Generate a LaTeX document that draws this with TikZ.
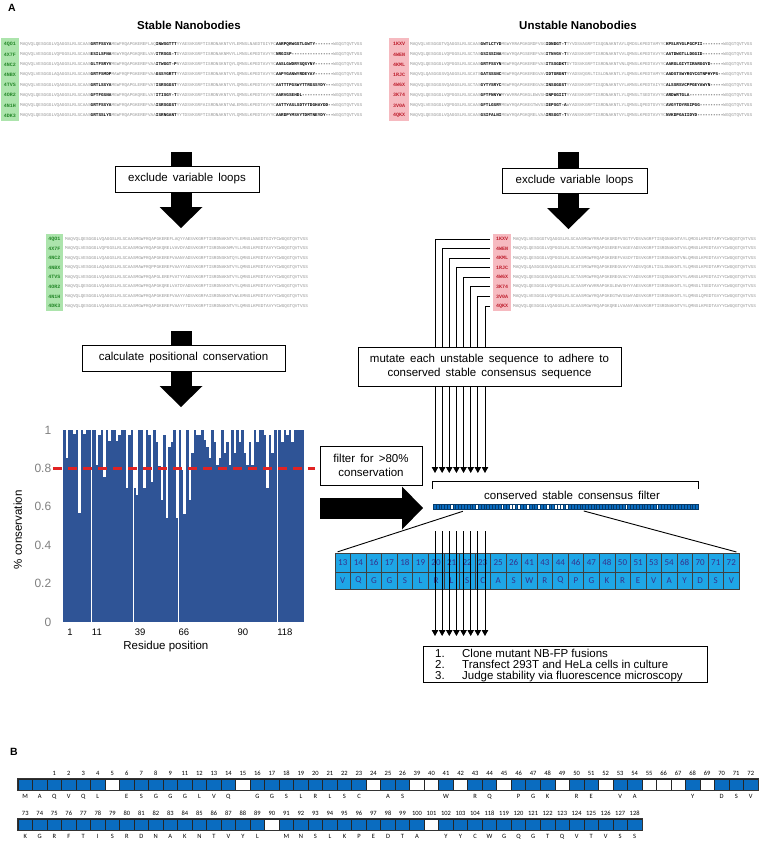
\documentclass[tikz,border=0pt]{standalone}
\usepackage{fontspec}
\setmainfont{Liberation Sans}
\setmonofont{Liberation Mono}
\newfontfamily\widefont{Liberation Sans}[WordSpace=1.6]
\newfontfamily\calfont{Carlito}
\usepackage{xcolor}
\usetikzlibrary{arrows.meta,calc,positioning}

\definecolor{stabgreen}{RGB}{35,135,40}
\definecolor{stabbg}{RGB}{172,228,172}
\definecolor{unstred}{RGB}{190,30,45}
\definecolor{unstbg}{RGB}{246,186,192}
\definecolor{seqgray}{RGB}{150,150,150}
\definecolor{chartblue}{RGB}{47,84,150}
\definecolor{kept}{RGB}{10,108,192}
\definecolor{drop}{RGB}{255,255,255}
\definecolor{tabcyan}{RGB}{30,166,230}
\definecolor{tabtext}{RGB}{55,50,140}
\definecolor{cutred}{RGB}{225,35,35}

% fr1/cdr1/fr2/cdr2/fr3/cdr3/fr4
\newcommand{\rawseq}[7]{#1{\color{black}\bfseries #2}#3{\color{black}\bfseries #4}#5{\color{black}\bfseries #6}#7}
\newcommand{\stepno}[1]{\makebox[27pt][l]{#1}}

\def\stabrows{4QO1/MAQVQLQESGGGLVQAGGSLRLSCAAS/GRTFSSYA/MGWFRQAPGKEREFLAQ/INWSGTTT/YYAESVKGRFTISRDNAKNTVYLEMNSLNAEDTGIYFC/AARPQRWGSTLGWTY-------/WGQGTQVTVSS,
4X7F/MAQVQLVESGGGLVQPGGSLRLSCAAS/ESILSFNA/MGWYRQAPGKQRELVAV/ITRSGS-T/DYADSVKGRFTISRDNAKNMVYLLMNSLKPEDTAVYYC/NRGISP----------------/WGQGTQVTVSS,
4NC2/MAQVQLVESGGGLVQAGGSLRLSCAAS/GLTFSRYV/MGWFRQAPGKEREFVAA/ITWGGT-P/NYADSVKGRFTISRDNSKNTQYLQMNSLKPEDTAVYYC/AASLGWDRYSQSYNY-------/WGQGTQVTVSS,
4NBX/MAQVQLVESGGGLAQAGGSLRLSCAAS/GRTFSMDP/MAWFRQPPGKEREFVAA/GSSYGRTT/YYADSVKGRFTISRDNAKNTVYLQMNSLKPEDTAVYYC/AAPYGANWYRDEYAY-------/WGQGTQVTVSS,
4TVS/MAQVQLVESGGGLVQAGGSLRLSCAAS/GRTLSSYA/MGWFRQAPGLEREFVAT/ISRSGGST/YYADSVKGRFTISRDNAKNTVYLQMNSLKPEDTAVYYC/AATTTPGSWYTTRGSSYDY---/WGQGTQVTVSS,
4OR2/MAQVQLQESGGGLVQAGGSLRLSCAAS/GFTFGSNA/MGWFRQAPGKQRELVAT/ITISGY-T/DYADSVKGRFTISRDNVKNTVYLQMNSLKPEDTAVYYC/AARVGSEHDL------------/WGQGTQVTVSS,
4N1H/MAQVQLQESGGGLVQAGGSLRLSCAAS/GRTFSSYA/MGWFRQAPGKEREFVAA/ISRSGGST/YYADSVKGRFAISRDNAKNTVWLEMNSLKPEDTAVYYC/AATTYASLSDTYTDGHAYDD--/WGQGTQVTVSS,
4DK3/MAQVQLQESGGGLVQAGGSLRLSCAAS/GRTSSLYS/MGWFRQAPGKEREFVAA/ISRNGANT/YYTDSVKGRFTISRDNAKNTVYLQMNSLKPEDTAVYYC/AARDPYMSVYTDMTNEYDY---/WGQGTQVTVSS}

\def\unstrows{1KXV/MAQVQLVESGGGTVQAGGSLRLSCAAS/GWTLCTYD/MGWYRRAPGKGRDFVSG/IDNDGT-T/TYVDSVAGRFTISQGNAKNTAYLQMDSLKPEDTAMYYC/KPSLRYGLPGCPII--------/WGQGTQVTVSS,
4WEN/MAQVQLQESGGGLVQPGGSLRLSCTAS/GSISSINA/MGWYRQAPGSEREFVAG/ITNVGV-T/EYADSVKGRFTISRDNAKNTVVLQMNSLKPEDTAVYYC/AATDWGTLLDGGID--------/WGQGTQVTVSS,
4KML/MAQVQLQESGGGLVQPGGSLRLSCAAS/GRTFSSYN/MGWFRQAPGKEREFVAS/ITSSGDKT/DYTDSVKGRFTISRDNAKNTVNLQMNSLKPEDTAVYYC/AARGLGIYTIRARGGYD-----/WGQGTQVTVSS,
1RJC/MAQVQLQASGGGSVQAGGSLRLSCATS/GATSSSNC/MGWFRQAPGKEREGVAV/IDTGRGNT/YYADSVQGRLTISLDNAKNTLYLQMNSLKPEDTAMYYC/AADSTSWYRGYCGTNPHYPS--/WGQGTQVTVSS,
4W6X/MAQVQLQESGGGSVQAGGSLRLSCTAS/GYTYSRYC/MGWFRQAPGKEREGVAC/INSGGGST/YYADSVKGRFTISQDNAKNTVYLAMNSLKPEDTAIYYC/ALSSRSVCPPGEYAWYN-----/WGQGTQVTVSS,
3K74/MAQVQLQESGGGLVQPGGSLRLSCAAS/GFTFNNYW/MYWVRRAPGKGLEWVSH/INPGGIIT/YYAESVKGRFTISRDNAKNTLYLQMNSLTSEDTAVYYC/ARDWRTGLA-------------/WGQGTQVTVSS,
3V0A/MAQVQLVESGGGLVQPGGSLRLSCAAS/GFTLGSRY/MGWYRQAPGKEGTWVSS/IEPSGT-A/WYADSVKGRFTISRDNAKNTLYLQMNSLQPEDTGVYYC/AVGYTDYRSIPGG---------/WGQGTQVTVSS,
4QKX/MAQVQLQESGGGLVQAGGSLRLSCAAS/GSIFALNI/MGWYRQAPGKQRELVAA/IRSGGT-T/NYANSVKGRFTISRDNAKNTVYLQMNSLKPEDTAVYYC/NVKDPGAIIDYD----------/WGQGTQVTVSS}

% position/residue/colour
\def\rowA{/M/kept,/A/kept,1/Q/kept,2/V/kept,3/Q/kept,4/L/kept,5//drop,6/E/kept,7/S/kept,8/G/kept,9/G/kept,11/G/kept,12/L/kept,13/V/kept,14/Q/kept,15//drop,16/G/kept,17/G/kept,18/S/kept,19/L/kept,20/R/kept,21/L/kept,22/S/kept,23/C/kept,24//drop,25/A/kept,26/S/kept,39//drop,40//drop,41/W/kept,42//drop,43/R/kept,44/Q/kept,45//drop,46/P/kept,47/G/kept,48/K/kept,49//drop,50/R/kept,51/E/kept,52//drop,53/V/kept,54/A/kept,55//drop,66//drop,67//drop,68/Y/kept,69//drop,70/D/kept,71/S/kept,72/V/kept}
\def\rowB{73/K/kept,74/G/kept,75/R/kept,76/F/kept,77/T/kept,78/I/kept,79/S/kept,80/R/kept,81/D/kept,82/N/kept,83/A/kept,84/K/kept,85/N/kept,86/T/kept,87/V/kept,88/Y/kept,89/L/kept,90//drop,91/M/kept,92/N/kept,93/S/kept,94/L/kept,95/K/kept,96/P/kept,97/E/kept,98/D/kept,99/T/kept,100/A/kept,101//drop,102/Y/kept,103/Y/kept,104/C/kept,118/W/kept,119/G/kept,120/Q/kept,121/G/kept,122/T/kept,123/Q/kept,124/V/kept,125/T/kept,126/V/kept,127/S/kept,128/S/kept}
\def\tabdata{13/V,14/Q,16/G,17/G,18/S,19/L,20/R,21/L,22/S,23/C,25/A,26/S,41/W,43/R,44/Q,46/P,47/G,48/K,50/R,51/E,53/V,54/A,68/Y,70/D,71/S,72/V}

\begin{document}
\begin{tikzpicture}[x=1pt,y=-1pt,
  panlab/.style={inner sep=0pt,font=\bfseries\fontsize{10.5}{12}\selectfont},
  title/.style={inner sep=0pt,font=\bfseries\fontsize{11.5}{13}\selectfont},
  stepbox/.style={draw,fill=white,line width=0.9pt,inner sep=0pt,align=center,font=\widefont\fontsize{11.5}{13.5}\selectfont},
  bigarrow/.style={line width=21pt,-{Triangle[length=21pt,width=43pt,line width=0pt]}},
  mutarrow/.style={line width=0.8pt,-{Triangle[length=6pt,width=6.5pt]}},
  seqtxt/.style={inner sep=0pt,anchor=west,text=seqgray,font=\ttfamily\fontsize{4.35}{4.35}\selectfont},
  seqlab/.style={inner sep=0pt,font=\ttfamily\bfseries\fontsize{5}{5}\selectfont},
  fcell/.style={minimum width=2.82pt,minimum height=5pt,inner sep=0pt,draw=kept!55!black,line width=0.25pt},
  tcell/.style={minimum width=15.54pt,inner sep=0pt,fill=tabcyan,draw=black!75,line width=0.5pt,text=tabtext,font=\calfont\fontsize{9}{9}\selectfont},
  bcell/.style={minimum width=14.51pt,minimum height=11pt,inner sep=0pt,draw=black!85,line width=0.7pt},
  btxt/.style={inner sep=0pt,font=\calfont\fontsize{6.5}{6.5}\selectfont},
  ytick/.style={anchor=east,inner sep=0pt,text=black!50,font=\fontsize{12}{12}\selectfont},
  xtick/.style={inner sep=0pt,font=\fontsize{9.5}{10}\selectfont},
  axlab/.style={inner sep=0pt,font=\fontsize{11.5}{12}\selectfont}]
\fill[white] (0,0) rectangle (762,844);
\useasboundingbox (0,0) rectangle (762,844);

\node[panlab] (labA) at (12,8) {A};
\node[title] (stabT) at (189,25) {Stable Nanobodies};
\node[title] (unstT) at (578,25) {Unstable Nanobodies};

% sequence blocks
\fill[stabbg] (1,38) rectangle (19,121);
\fill[unstbg] (389,38) rectangle (409,121);
\fill[stabbg] (46,234) rectangle (63,311);
\fill[unstbg] (493,234) rectangle (511,311);
\foreach \lab/\sA/\sB/\sC/\sD/\sE/\sF/\sG [count=\i from 0] in \stabrows {
  \node[seqlab,text=stabgreen] (sr\i) at (10,44.3+10.2*\i) {\lab};
  \node[seqtxt] (srs\i) at (20,44.3+10.2*\i) {\rawseq{\sA}{\sB}{\sC}{\sD}{\sE}{\sF}{\sG}};
  \node[seqlab,text=stabgreen] (sa\i) at (54.5,239+9.57*\i) {\lab};
  \node[seqtxt] (sas\i) at (65,239+9.57*\i) {\sA\sC\sE\sG};
}
\foreach \lab/\sA/\sB/\sC/\sD/\sE/\sF/\sG [count=\i from 0] in \unstrows {
  \node[seqlab,text=unstred] (ur\i) at (399,44.3+10.2*\i) {\lab};
  \node[seqtxt] (urs\i) at (410,44.3+10.2*\i) {\rawseq{\sA}{\sB}{\sC}{\sD}{\sE}{\sF}{\sG}};
  \node[seqlab,text=unstred] (ua\i) at (502,239+9.57*\i) {\lab};
  \node[seqtxt] (uas\i) at (513,239+9.57*\i) {\sA\sC\sE\sG};
}

% block arrows
\coordinate (exLs) at (181,152);   \coordinate (exLe) at (181,228);
\coordinate (exRs) at (568.5,152); \coordinate (exRe) at (568.5,229);
\coordinate (caLs) at (181,331);   \coordinate (caLe) at (181,407);
\coordinate (fiLs) at (320,508);   \coordinate (fiLe) at (423,508);
\draw[bigarrow] (exLs) -- (exLe);
\draw[bigarrow] (exRs) -- (exRe);
\draw[bigarrow] (caLs) -- (caLe);
\draw[bigarrow] (fiLs) -- (fiLe);
\node[stepbox,minimum width=144pt,minimum height=26pt] (exclL) at (187,179) {exclude variable loops};
\node[stepbox,minimum width=145pt,minimum height=25pt] (exclR) at (574.5,180.5) {exclude variable loops};
\node[stepbox,minimum width=203pt,minimum height=26pt] (calcB) at (183.5,358) {calculate positional conservation};

% unstable sequences to the filter
\foreach \i in {0,...,7} {
  \coordinate (mt\i) at (435+7.14*\i,473);
  \draw[mutarrow,shorten <=6pt] (ua\i.west) -| (mt\i);
}
\node[stepbox,minimum width=263pt,minimum height=39pt] (mutB) at (489.5,366.5) {mutate each unstable sequence to adhere to\\conserved stable consensus sequence};
\node[stepbox,minimum width=102pt,minimum height=39pt] (filtB) at (371,465.5) {filter for >80\%\\conservation};

% conservation chart
\begin{scope}[shift={(63,622)},x=2.51pt,y=192pt]
  \fill[chartblue] (0,0) rectangle (96,1);
  \foreach \b/\v in {1/.852,4/.979,6/.569,8/.979,13/.817,14/.974,16/.757,18/.944,21/.944,22/.974,25/.696,26/.974,28/.696,29/.66,32/.70,34/.974,35/.73,37/.94,38/.81,39/.635,40/.974,41/.54,42/.91,43/.94,45/.54,47/.79,48/.565,50/.635,51/.878,53/.974,54/.974,56/.948,57/.913,58/.852,60/.94,61/.817,62/.852,64/.878,65/.94,66/.817,68/.878,70/.94,72/.878,73/.817,74/.94,75/.817,77/.94,80/.974,81/.696,82/.974,83/.878,87/.94,89/.974,91/.94}
    \fill[white] (\b,\v) rectangle (\b+1,1.01);
  \foreach \g in {11.4,28,46.1,85.4}
    \fill[white] (\g-0.3,-0.005) rectangle (\g+0.3,1.01);
  \draw[cutred,line width=2.5pt,dash pattern=on 9pt off 6pt] (-4,0.8) -- (100.4,0.8);
  \foreach \v in {0,0.2,0.4,0.6,0.8,1}
    \node[ytick] (yt\v) at (-4.6,\v) {\v};
  \foreach \p/\t in {2.8/1,13.5/11,30.7/39,48.2/66,71.7/90,88.4/118}
    \node[xtick] (xt\t) at (\p,-0.055) {\t};
  \node[axlab] (xlab) at (41,-0.13) {Residue position};
  \node[axlab,rotate=90] (ylab) at (-18,0.48) {\% conservation};
\end{scope}

% consensus filter bar
\foreach \n/\l/\c [count=\k from 0] in \rowA
  \node[fcell,fill=\c] (f\k) at (434.41+2.82*\k,506.5) {};
\foreach \n/\l/\c [count=\k from 51] in \rowB
  \node[fcell,fill=\c] (f\k) at (434.41+2.82*\k,506.5) {};
\draw[line width=0.9pt] ([yshift=15pt]f0.north west) -- ([yshift=22pt]f0.north west) -| ([yshift=15pt]f93.north east);
\node[font=\widefont\fontsize{11.5}{13}\selectfont,inner sep=0pt] (filtT) at (572,495) {conserved stable consensus filter};

% zoomed table
\foreach \n/\l [count=\k from 0] in \tabdata {
  \node[tcell,minimum height=19pt] (tn\k) at (342.8+15.54*\k,562.5) {\n};
  \node[tcell,minimum height=17pt] (tl\k) at (342.8+15.54*\k,580.5) {\l};
}
\draw[line width=0.9pt,shorten <=7pt,shorten >=3pt] (f13.south west) -- (tn0.north west);
\draw[line width=0.9pt,shorten <=7pt,shorten >=3pt] (f50.south east) -- (tn25.north east);

\foreach \i in {0,...,7} {
  \coordinate (lb\i) at (435+7.14*\i,531);
  \coordinate (le\i) at (435+7.14*\i,636);
  \draw[mutarrow] (lb\i) -- (le\i);
}
\node[stepbox,minimum width=284pt,minimum height=36pt] (finB) at (565,664) {};
\node[anchor=west,inner sep=0pt,align=left,font=\fontsize{11.5}{11}\selectfont] (finT) at (435,665.5) {\stepno{1.}Clone mutant NB-FP fusions\\\stepno{2.}Transfect 293T and HeLa cells in culture\\\stepno{3.}Judge stability via fluorescence microscopy};

% panel B
\node[panlab] (labB) at (14,752) {B};
\foreach \n/\l/\c [count=\k from 0] in \rowA {
  \node[bcell,fill=\c] (b\k) at (25.25+14.51*\k,784.5) {};
  \node[btxt,above=2.5pt of b\k] (bn\k) {\n};
  \node[btxt,below=4pt of b\k] (bl\k) {\l};
}
\foreach \n/\l/\c [count=\k from 0] in \rowB {
  \node[bcell,fill=\c] (c\k) at (25.25+14.51*\k,824.5) {};
  \node[btxt,above=2.5pt of c\k] (cn\k) {\n};
  \node[btxt,below=4pt of c\k] (cl\k) {\l};
}
\draw[line width=1.1pt,black!80] (b0.north west) rectangle (b50.south east);
\draw[line width=1.1pt,black!80] (c0.north west) rectangle (c42.south east);
\end{tikzpicture}
\end{document}
